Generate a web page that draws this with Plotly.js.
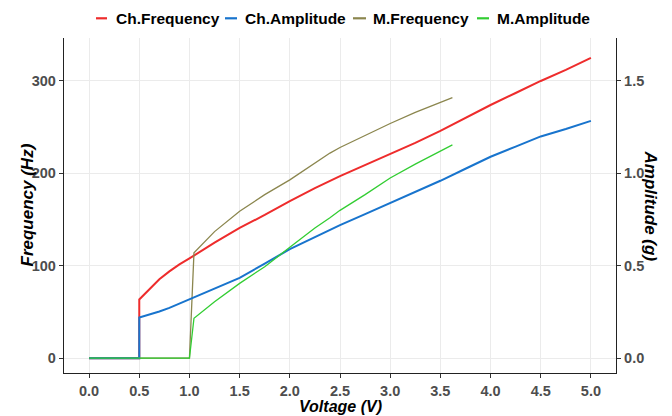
<!DOCTYPE html>
<html><head><meta charset="utf-8">
<script src="https://cdn.plot.ly/plotly-3.0.1.min.js"></script>
<style>html,body{margin:0;padding:0;background:#fff}#chart{width:672px;height:416px}</style>
</head><body><div id="chart"></div><script>
// Channel (Ch) measurements
const chVoltage   = [0, 0.5, 0.5, 0.6, 0.7, 0.8, 0.9, 1.0, 1.1, 1.25, 1.5, 1.75, 2.0, 2.25, 2.5, 2.75, 3.0, 3.25, 3.5, 3.75, 4.0, 4.25, 4.5, 4.75, 5.0];
const chFrequency = [0, 0, 63.5, 75, 85.5, 94, 101.5, 108, 115, 125, 141, 155, 170, 184, 197, 209, 221, 233, 246, 260, 274, 287, 300, 312, 325];
const chAmplitude = [0, 0, 0.22, 0.235, 0.253, 0.272, 0.295, 0.32, 0.343, 0.375, 0.435, 0.512, 0.59, 0.655, 0.72, 0.78, 0.84, 0.9, 0.96, 1.025, 1.09, 1.145, 1.2, 1.24, 1.284];
// Motor (M) measurements
const mVoltage   = [0, 1.0, 1.045, 1.1, 1.15, 1.25, 1.5, 1.75, 2.0, 2.25, 2.4, 2.5, 2.75, 3.0, 3.25, 3.5, 3.62];
const mFrequency = [0, 0, 114, 120, 126, 137, 159, 177, 193, 211, 222, 228, 241, 254, 266, 277, 282];
const mAmplitude = [0, 0, 0.216, 0.24, 0.262, 0.305, 0.405, 0.495, 0.6, 0.705, 0.76, 0.8, 0.885, 0.975, 1.05, 1.12, 1.154];

const seriesNames = ['Ch.Frequency', 'Ch.Amplitude', 'M.Frequency', 'M.Amplitude'];
const colors = ['#EE2C2C', '#1874CD', '#8B864E', '#32CD32'];
const xTicks = [0, 0.5, 1, 1.5, 2, 2.5, 3, 3.5, 4, 4.5, 5];
const yTicks = [0, 100, 200, 300];
const y2Ticks = [0, 0.5, 1.0, 1.5];

const FONT = 'Liberation Sans, Arial, Helvetica, sans-serif';

const traces = [
  {x: chVoltage, y: chFrequency, yaxis: 'y', line: {color: colors[0], width: 2}},
  {x: chVoltage, y: chAmplitude, yaxis: 'y2', line: {color: colors[1], width: 2}},
  {x: mVoltage, y: mFrequency, yaxis: 'y', line: {color: colors[2], width: 1.3}},
  {x: mVoltage, y: mAmplitude, yaxis: 'y2', line: {color: colors[3], width: 1.3}}
].map((t, i) => Object.assign({type: 'scatter', mode: 'lines', name: seriesNames[i], showlegend: false, hoverinfo: 'x+y+name'}, t));

const L = 64, R = 616, T = 38, B = 373;
const W = R - L, H = B - T;
const px = v => (v - L) / W;
const py = v => (B - v) / H;

const legendPos = [[96, 107, 115], [225, 237, 244], [353, 366, 372], [477, 489, 496]];
const legendY = py(18.3);
const shapes = legendPos.map((p, i) => ({
  type: 'line', xref: 'paper', yref: 'paper', x0: px(p[0]), x1: px(p[1]), y0: legendY, y1: legendY,
  line: {color: colors[i], width: 2.2}
}));
const annotations = legendPos.map((p, i) => ({
  xref: 'paper', yref: 'paper', x: px(p[2]), y: legendY, xanchor: 'left', yanchor: 'middle',
  text: seriesNames[i], showarrow: false, borderpad: 0,
  font: {family: FONT, size: 15.5, color: '#000', weight: 'bold'}
}));
const titleFont = {family: FONT, size: 17, color: '#000', weight: 'bold', style: 'italic'};
annotations.push(
  {xref: 'paper', yref: 'paper', x: 0.5, y: py(406.5), xanchor: 'center', yanchor: 'middle', text: 'Voltage (V)', showarrow: false, borderpad: 0, font: Object.assign({}, titleFont, {size: 16})},
  {xref: 'paper', yref: 'paper', x: px(27), y: 0.5, xanchor: 'center', yanchor: 'middle', textangle: -90, text: 'Frequency (Hz)', showarrow: false, font: titleFont},
  {xref: 'paper', yref: 'paper', x: px(650), y: 0.5, xanchor: 'center', yanchor: 'middle', textangle: 90, text: 'Amplitude (g)', showarrow: false, font: titleFont}
);

const tickFont = {family: FONT, size: 14.5, color: '#4D4D4D', weight: 'bold'};
const axisCommon = {
  showline: true, linecolor: '#222', linewidth: 1.2, ticks: 'outside', ticklen: 4, tickwidth: 1, tickcolor: '#333',
  tickfont: tickFont, zeroline: false, gridcolor: '#EBEBEB', gridwidth: 1
};
const yRange = [-16, 346.5];

const layout = {
  width: 672, height: 416,
  margin: {l: L, r: 672 - R, t: T, b: 416 - B, pad: 0},
  paper_bgcolor: '#fff', plot_bgcolor: '#fff',
  showlegend: false,
  xaxis: Object.assign({}, axisCommon, {range: [-0.25, 5.25], tickvals: xTicks, tickformat: '.1f', showgrid: true, ticklabelstandoff: 0}),
  yaxis: Object.assign({}, axisCommon, {range: yRange, tickvals: yTicks, showgrid: true}),
  yaxis2: Object.assign({}, axisCommon, {range: [yRange[0] / 200, yRange[1] / 200], tickvals: y2Ticks, tickformat: '.1f', overlaying: 'y', side: 'right', showgrid: false}),
  shapes: shapes,
  annotations: annotations
};

Plotly.newPlot('chart', traces, layout, {displayModeBar: false, staticPlot: true});
</script></body></html>
